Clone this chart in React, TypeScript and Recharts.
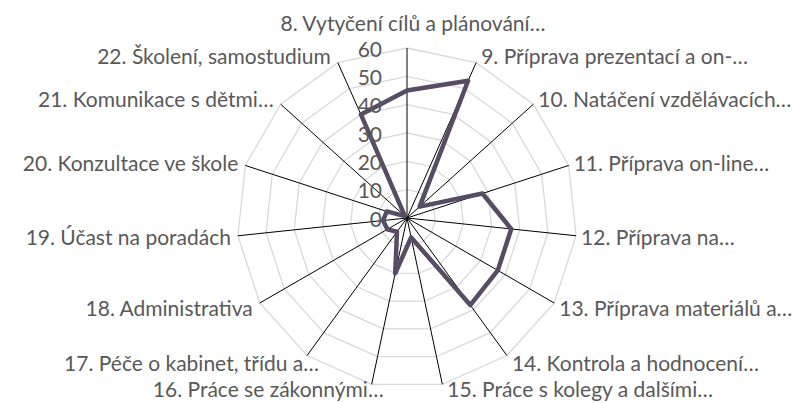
import { RadarChart, Radar, PolarGrid, PolarAngleAxis, PolarRadiusAxis } from 'recharts'

const activities = [
  '8. Vytyčení cílů a plánování…',
  '9. Příprava prezentací a on-…',
  '10. Natáčení vzdělávacích…',
  '11. Příprava on-line…',
  '12. Příprava na…',
  '13. Příprava materiálů a…',
  '14. Kontrola a hodnocení…',
  '15. Práce s kolegy a dalšími…',
  '16. Práce se zákonnými…',
  '17. Péče o kabinet, třídu a…',
  '18. Administrativa',
  '19. Účast na poradách',
  '20. Konzultace ve škole',
  '21. Komunikace s dětmi…',
  '22. Školení, samostudium',
]

const hours = [45, 53, 6, 28, 37, 37, 38, 7, 20, 6, 8, 8.5, 7.5, 1, 40]

const radiusTicks = [0, 10, 20, 30, 40, 50, 60]

const CX = 407
const CY = 218
const R = 170
const FONT = 'Lato, "Open Sans", sans-serif'
const TEXT = '#595959'
const FS = 21

const chartData = activities.map((name, i) => ({ name, value: hours[i] }))

function AngleTick(props: any) {
  const { payload } = props
  const a = (payload.coordinate * Math.PI) / 180
  const hx = Math.cos(a)
  const vy = Math.sin(a)
  const ex = CX + R * hx
  const ey = CY - R * vy
  let anchor: 'start' | 'middle' | 'end' = 'middle'
  let x = ex
  // keep the bottom row inside the picture
  let y = Math.min(ey - vy * 8, 388)
  if (hx > 0.05) {
    anchor = 'start'
    x = ex + 5
  } else if (hx < -0.05) {
    anchor = 'end'
    // lower-left labels sit a little further right in the original
    x = vy < -0.7 ? ex + 12 : ex - 7
  } else {
    x = ex + 6
    y = ey - 26
  }
  return (
    <text x={x} y={y} textAnchor={anchor} dominantBaseline="central" fill={TEXT} fontSize={FS} fontFamily={FONT}>
      {payload.value}
    </text>
  )
}

function RadiusTick(props: any) {
  const { payload, y } = props
  return (
    <text x={CX - 25} y={y} textAnchor="end" dominantBaseline="central" fill={TEXT} fontSize={FS} fontFamily={FONT}>
      {payload.value}
    </text>
  )
}

export default function App() {
  return (
    <div style={{ position: 'absolute', left: 0, top: 0, width: 810, height: 403, background: '#fff' }}>
      <RadarChart width={810} height={403} data={chartData} cx={CX} cy={CY} outerRadius={R} margin={{ top: 0, right: 0, bottom: 0, left: 0 }}>
        <PolarGrid gridType="polygon" radialLines={false} stroke="#d9d9d9" strokeWidth={1.3} />
        <PolarGrid gridType="polygon" polarRadius={[]} stroke="#000" strokeWidth={1} />
        <PolarAngleAxis dataKey="name" tick={<AngleTick />} axisLine={false} tickLine={false} />
        <PolarRadiusAxis angle={90} domain={[0, 60]} ticks={radiusTicks as any} tickCount={7} tick={<RadiusTick />} axisLine={false} tickLine={false} />
        <Radar
          dataKey="value"
          stroke="#574c63"
          strokeWidth={4.5}
          strokeLinejoin="round"
          fill="none"
          fillOpacity={0}
          dot={false}
          isAnimationActive={false}
        />
      </RadarChart>
    </div>
  )
}
